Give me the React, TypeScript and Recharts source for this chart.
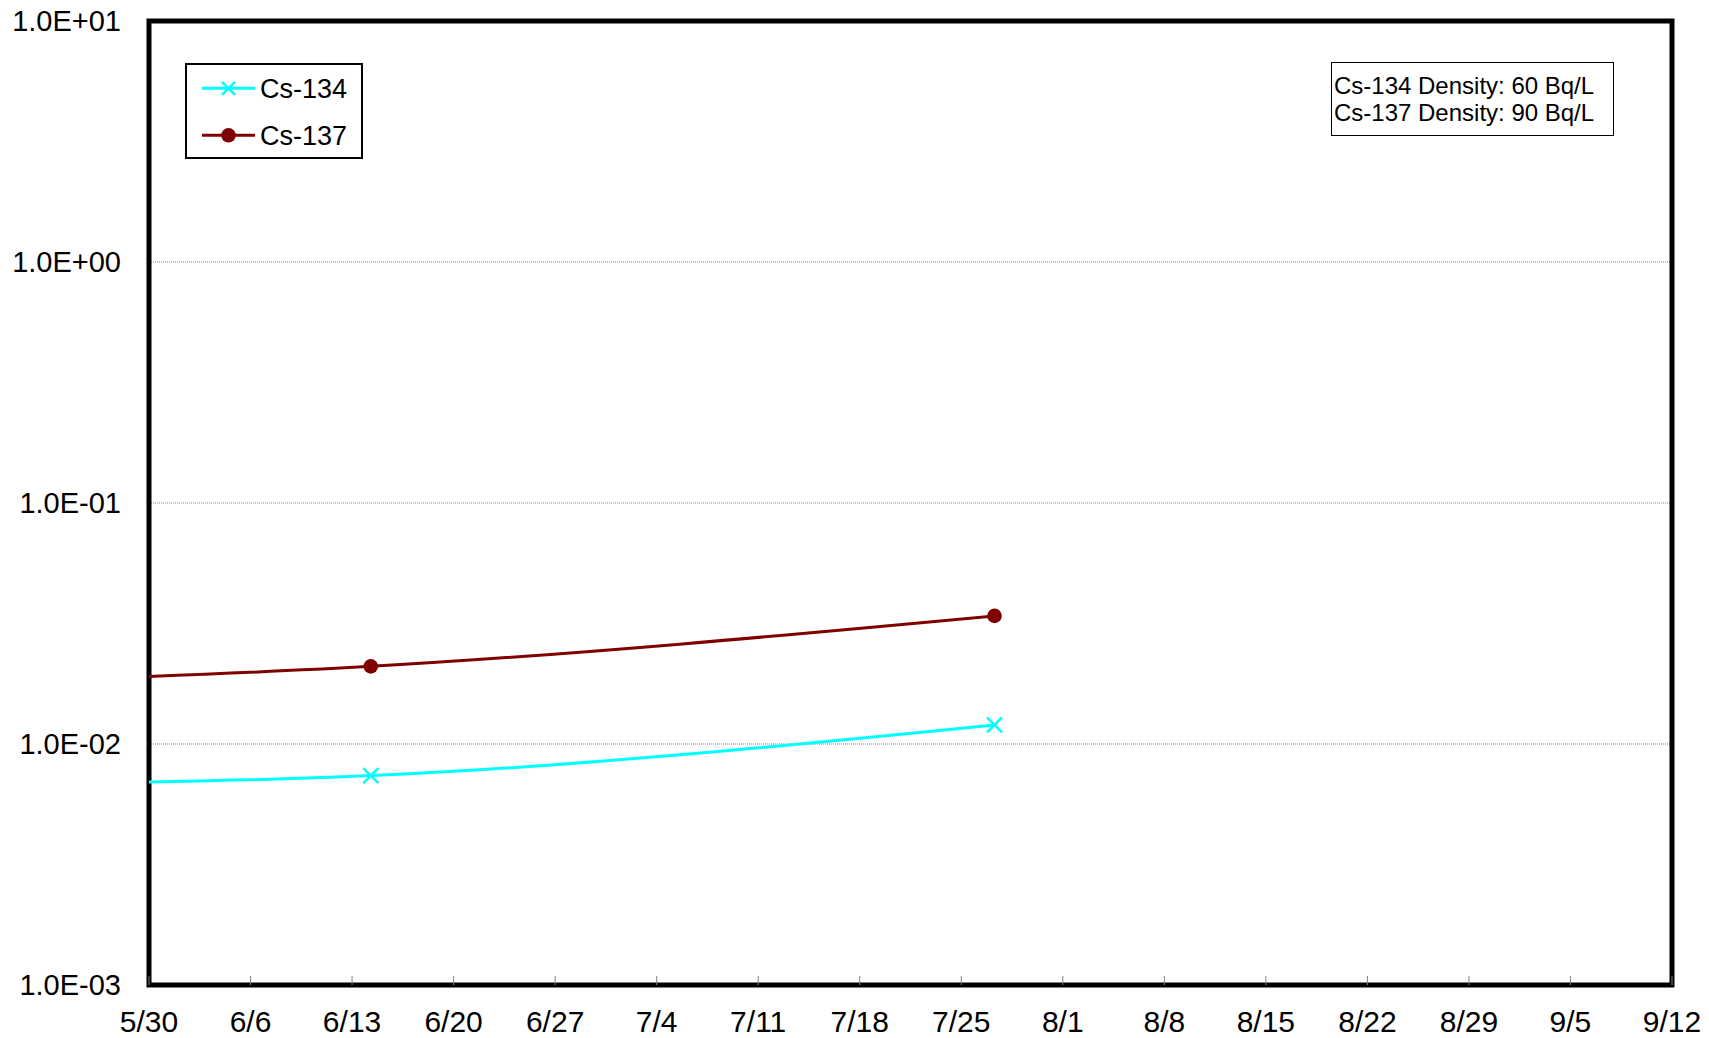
import React from "react";
import {
  LineChart,
  Line,
  XAxis,
  YAxis,
  CartesianGrid,
  ReferenceArea,
  Legend,
} from "recharts";

const FONT = "'Liberation Sans', Arial, Helvetica, sans-serif";

// Sampling dates (month/day hour:min) – the first one lies before the axis start and is clipped
const sampleDates = ["5/16 7:00", "6/14 7:00", "7/27 7:00"];
const cs134Values = [0.00678, 0.0074, 0.012];
const cs137Values = [0.0178, 0.021, 0.034];

const xTickLabels = [
  "5/30", "6/6", "6/13", "6/20", "6/27", "7/4", "7/11", "7/18",
  "7/25", "8/1", "8/8", "8/15", "8/22", "8/29", "9/5", "9/12",
];
const yTickValues = [0.001, 0.01, 0.1, 1, 10];
const yTickLabels = ["1.0E-03", "1.0E-02", "1.0E-01", "1.0E+00", "1.0E+01"];

const seriesNames = ["Cs-134", "Cs-137"];
const seriesColors = ["#00FFFF", "#800000"];
const annotationLines = ["Cs-134 Density: 60 Bq/L", "Cs-137 Density: 90 Bq/L"];

const YEAR = 2011;
function toDay(s: string): number {
  const [md, hm] = s.split(" ");
  const [m, d] = md.split("/").map(Number);
  let frac = 0;
  if (hm) {
    const [h, mi] = hm.split(":").map(Number);
    frac = (h + mi / 60) / 24;
  }
  return Date.UTC(YEAR, m - 1, d) / 86400000 + frac;
}

const xTicks = xTickLabels.map(toDay);
const xDomain: [number, number] = [xTicks[0], xTicks[xTicks.length - 1]];

const data = sampleDates.map((d, i) => ({
  day: toDay(d),
  [seriesNames[0]]: cs134Values[i],
  [seriesNames[1]]: cs137Values[i],
}));

function xLabel(v: number): string {
  const i = xTicks.findIndex((t) => Math.abs(t - v) < 1e-6);
  return i >= 0 ? xTickLabels[i] : "";
}
function yLabel(v: number): string {
  const i = yTickValues.findIndex((t) => Math.abs(Math.log10(t) - Math.log10(v)) < 1e-6);
  return i >= 0 ? yTickLabels[i] : "";
}

const XTick = (props: any) => {
  const { x, y, payload } = props;
  return (
    <g>
      <line x1={x} y1={y} x2={x} y2={y - 9} stroke="#808080" strokeWidth={1} />
      <text x={x} y={y + 47} textAnchor="middle" fontSize={30} fill="#000" fontFamily={FONT}>
        {xLabel(payload.value)}
      </text>
    </g>
  );
};

const YTick = (props: any) => {
  const { x, y, payload } = props;
  return (
    <text x={x - 28} y={y} dy="0.36em" textAnchor="end" fontSize={29} fill="#000" fontFamily={FONT}>
      {yLabel(payload.value)}
    </text>
  );
};

const CrossDot = (props: any) => {
  const { cx, cy } = props;
  if (cx == null || cy == null) return <g />;
  const s = 7.5;
  return (
    <path
      d={`M${cx - s},${cy - s}L${cx + s},${cy + s}M${cx - s},${cy + s}L${cx + s},${cy - s}`}
      stroke={seriesColors[0]}
      strokeWidth={2.5}
      fill="none"
    />
  );
};

const LegendMarker = ({ name, cx, cy }: { name: string; cx: number; cy: number }) => {
  const idx = seriesNames.indexOf(name);
  const color = seriesColors[idx];
  if (idx === 0) {
    const s = 6.5;
    return (
      <path
        d={`M${cx - s},${cy - s}L${cx + s},${cy + s}M${cx - s},${cy + s}L${cx + s},${cy - s}`}
        stroke={color}
        strokeWidth={2.5}
        fill="none"
      />
    );
  }
  return <circle cx={cx} cy={cy} r={7.3} fill={color} />;
};

const LegendBox = (props: any) => {
  const payload: any[] = props.payload && props.payload.length ? props.payload : seriesNames.map((n, i) => ({ value: n, color: seriesColors[i] }));
  return (
    <svg width={178} height={96} style={{ display: "block" }}>
      <rect x={1} y={1} width={176} height={94} fill="#fff" stroke="#000" strokeWidth={2} />
      {payload.map((it: any, i: number) => {
        const name = String(it.value);
        const idx = seriesNames.indexOf(name);
        const cy = 25.3 + i * 47;
        return (
          <g key={name}>
            <line x1={17} y1={cy} x2={70} y2={cy} stroke={seriesColors[idx]} strokeWidth={3} />
            <LegendMarker name={name} cx={43.5} cy={cy} />
            <text x={75} y={cy + 9.5} fontSize={27} fill="#000" fontFamily={FONT}>
              {name}
            </text>
          </g>
        );
      })}
    </svg>
  );
};

export default function App() {
  return (
    <div style={{ position: "absolute", left: 0, top: 0, width: 1709, height: 1038, background: "#fff" }}>
      <LineChart
        width={1709}
        height={1038}
        data={data}
        margin={{ top: 21, right: 37, bottom: 0, left: 0 }}
      >
        <CartesianGrid vertical={false} stroke="#808080" strokeDasharray="1 1" strokeWidth={1} />
        <XAxis
          dataKey="day"
          type="number"
          domain={xDomain}
          ticks={xTicks}
          interval={0}
          allowDataOverflow
          height={53}
          axisLine={false}
          tickLine={false}
          tickSize={0}
          tickMargin={0}
          tick={<XTick />}
        />
        <YAxis
          type="number"
          scale="log"
          domain={[yTickValues[0], yTickValues[yTickValues.length - 1]]}
          ticks={yTickValues}
          interval={0}
          allowDataOverflow
          width={149}
          axisLine={false}
          tickLine={false}
          tickSize={0}
          tickMargin={0}
          tick={<YTick />}
        />
        <Line
          dataKey={seriesNames[0]}
          name={seriesNames[0]}
          type="monotone"
          stroke={seriesColors[0]}
          strokeWidth={3}
          dot={<CrossDot />}
          activeDot={false}
          isAnimationActive={false}
        />
        <Line
          dataKey={seriesNames[1]}
          name={seriesNames[1]}
          type="monotone"
          stroke={seriesColors[1]}
          strokeWidth={3}
          dot={{ r: 7.3, fill: seriesColors[1], stroke: seriesColors[1], strokeWidth: 0 }}
          activeDot={false}
          isAnimationActive={false}
        />
        <ReferenceArea
          x1={xDomain[0]}
          x2={xDomain[1]}
          y1={yTickValues[0]}
          y2={yTickValues[yTickValues.length - 1]}
          fill="none"
          fillOpacity={0}
          stroke="#000"
          strokeWidth={5}
          strokeOpacity={1}
        />
        <Legend
          layout="vertical"
          align="center"
          verticalAlign="middle"
          content={<LegendBox />}
          wrapperStyle={{ position: "absolute", left: 185, top: 63, width: 178, height: 96, margin: 0, padding: 0 }}
        />
      </LineChart>
      <div
        style={{
          position: "absolute",
          left: 1331,
          top: 62,
          width: 283,
          height: 74,
          boxSizing: "border-box",
          border: "1.5px solid #000",
          paddingLeft: 2,
          paddingTop: 9,
          fontFamily: FONT,
          fontSize: 24,
          lineHeight: "27px",
          color: "#000",
          background: "#fff",
          whiteSpace: "nowrap",
        }}
      >
        {annotationLines.map((t) => (
          <div key={t}>{t}</div>
        ))}
      </div>
    </div>
  );
}
